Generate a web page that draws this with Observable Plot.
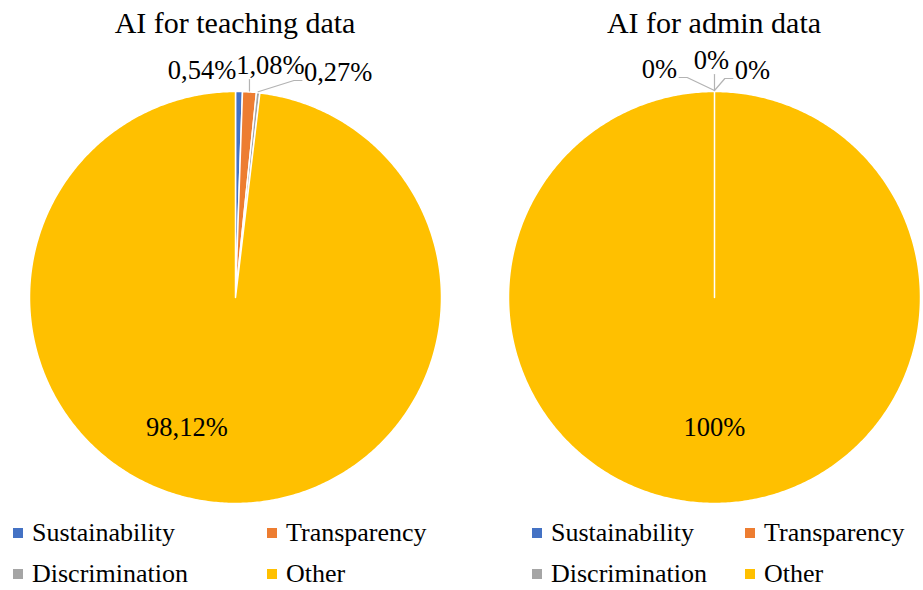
<!DOCTYPE html>
<html><head><meta charset="utf-8">
<script src="https://cdn.jsdelivr.net/npm/d3@7"></script>
<script src="https://cdn.jsdelivr.net/npm/@observablehq/plot@0.6"></script>
<style>
body{margin:0;background:#fff;}
#chart{position:relative;width:923px;height:590px;font-family:"Liberation Serif","Times New Roman",serif;color:#000;overflow:hidden;}
#chart svg{position:absolute;left:0;top:0;}
.t{position:absolute;white-space:nowrap;}
.sw{position:absolute;width:10px;height:10px;}
</style></head><body><div id="chart"></div>
<script>
// ---- data ----
const categories = ["Sustainability", "Transparency", "Discrimination", "Other"];
const teachingValues = [0.54, 1.08, 0.27, 98.12];
const adminValues = [0, 0, 0, 100];
const chartTitles = ["AI for teaching data", "AI for admin data"];
const sliceColors = ["#4472C4", "#ED7D31", "#A5A5A5", "#FFC000"];

// ---- layout ----
const R = 206, CY = 297;
const pieCenters = [235, 714];
const X0 = pieCenters[0];
const labelFont = 26.5;
const serif = '"Liberation Serif", "Times New Roman", serif';
// outside label nudges (px): [label centre x - anchor x, baseline - pie top]
const outsideNudges = [[[-37, -13], [21, -18], [80, -11]], [[-55, -14], [-3, -23], [38, -13]]];
const legendCols = [[13, 267], [532, 745]];
const legendRows = [542, 583];

const pies = [teachingValues, adminValues].map((values, p) => ({values, title: chartTitles[p], cx: pieCenters[p], p}));

const fmt = v => Number.isInteger(v) ? v + "%" : v.toFixed(2).replace(".", ",") + "%";
const ctx = document.createElement("canvas").getContext("2d");
ctx.font = `${labelFont}px "Liberation Serif"`;
const textW = s => ctx.measureText(s).width;

const marks = [];
for (const pie of pies) {
  const total = d3.sum(pie.values);
  const dx = pie.cx - X0;
  const pts = [], labels = [], leaders = [];
  let cum = 0, k = 0;
  pie.values.forEach((v, i) => {
    const a0 = cum / total * 2 * Math.PI; cum += v; const a1 = cum / total * 2 * Math.PI;
    const key = pie.p + "-" + i;
    const n = Math.max(2, Math.ceil((a1 - a0) / 0.01));
    pts.push({key, cat: categories[i], x: 0, y: 0});
    for (let j = 0; j <= n; j++) {
      const a = a0 + (a1 - a0) * j / n;
      pts.push({key, cat: categories[i], x: Math.sin(a), y: Math.cos(a)});
    }
    pts.push({key, cat: categories[i], x: 0, y: 0});
    const am = (a0 + a1) / 2;
    const text = fmt(v);
    if (v >= 5) {
      const r = 0.63;
      const ux = r * Math.sin(am), uy = r * Math.cos(am);
      const px = ux * R;
      const anchor = Math.abs(px) < 3 ? "middle" : px < 0 ? "end" : "start";
      labels.push({x: ux, y: uy, text, anchor});
    } else {
      const [ndx, ndy] = outsideNudges[pie.p][k++];
      const ax = R * Math.sin(am), ay = -R * Math.cos(am); // px rel. to centre (y down)
      const lcx = ax + ndx, base = -R + ndy;
      labels.push({x: lcx / R, y: -(base - 0.32 * labelFont) / R, text, anchor: "middle"});
      const w = textW(text), l = lcx - w / 2, r = lcx + w / 2;
      if (ax >= l - 2 && ax <= r + 2) {
        if (ay - 1 - (base + 6) > 3) leaders.push({key: i, x: ax / R, y: -(base + 6) / R}, {key: i, x: ax / R, y: -(ay - 1) / R});
      } else {
        const out = ax > r ? ax - r : l - ax;
        if (out > 8) {
          const e = ax > r ? r + 2 : l - 2;
          const el = ax > r ? e + 8 : e - 8;
          leaders.push({key: i, x: e / R, y: -base / R}, {key: i, x: el / R, y: -base / R}, {key: i, x: ax / R, y: -(ay - 1) / R});
        }
      }
    }
  });
  marks.push(Plot.line(pts, {x: "x", y: "y", z: "key", fill: "cat", stroke: "white", strokeWidth: 1.5, strokeLinejoin: "round", dx}));
  marks.push(Plot.line(leaders, {x: "x", y: "y", z: "key", stroke: "#B3B3B3", strokeWidth: 1.2, dx}));
  for (const a of ["start", "middle", "end"]) {
    const sub = labels.filter(d => d.anchor === a);
    if (sub.length) marks.push(Plot.text(sub, {x: "x", y: "y", text: "text", textAnchor: a, lineAnchor: "middle", fontSize: labelFont, fontFamily: serif, fill: "black", dx}));
  }
}
const svg = Plot.plot({
  width: 923, height: 590,
  marginTop: 0, marginBottom: 0, marginLeft: 0, marginRight: 0,
  x: {domain: [-1, 1], range: [X0 - R, X0 + R], axis: null},
  y: {domain: [-1, 1], range: [CY + R, CY - R], axis: null},
  color: {domain: categories, range: sliceColors},
  style: {background: "white", overflow: "visible", fontFamily: serif},
  marks
});
const chart = document.getElementById("chart");
chart.appendChild(svg);

// titles
const titleFs = 30;
pies.forEach(pie => {
  const d = document.createElement("div");
  d.className = "t";
  d.textContent = pie.title;
  d.style.cssText += `font-size:${titleFs}px;line-height:${titleFs}px;left:${pie.cx - 250}px;width:500px;text-align:center;top:${33 - 0.8375 * titleFs}px;`;
  chart.appendChild(d);
});
// legends
const legFs = 26;
pies.forEach(pie => {
  categories.forEach((c, i) => {
    const col = i % 2, row = Math.floor(i / 2);
    const sx = legendCols[pie.p][col], base = legendRows[row];
    const sw = document.createElement("div");
    sw.className = "sw";
    sw.style.cssText += `left:${sx}px;top:${base - 14}px;background:${sliceColors[i]};`;
    chart.appendChild(sw);
    const t = document.createElement("div");
    t.className = "t";
    t.textContent = c;
    t.style.cssText += `font-size:${legFs}px;line-height:${legFs}px;left:${sx + 19}px;top:${base - 0.8375 * legFs}px;`;
    chart.appendChild(t);
  });
});
</script></body></html>
